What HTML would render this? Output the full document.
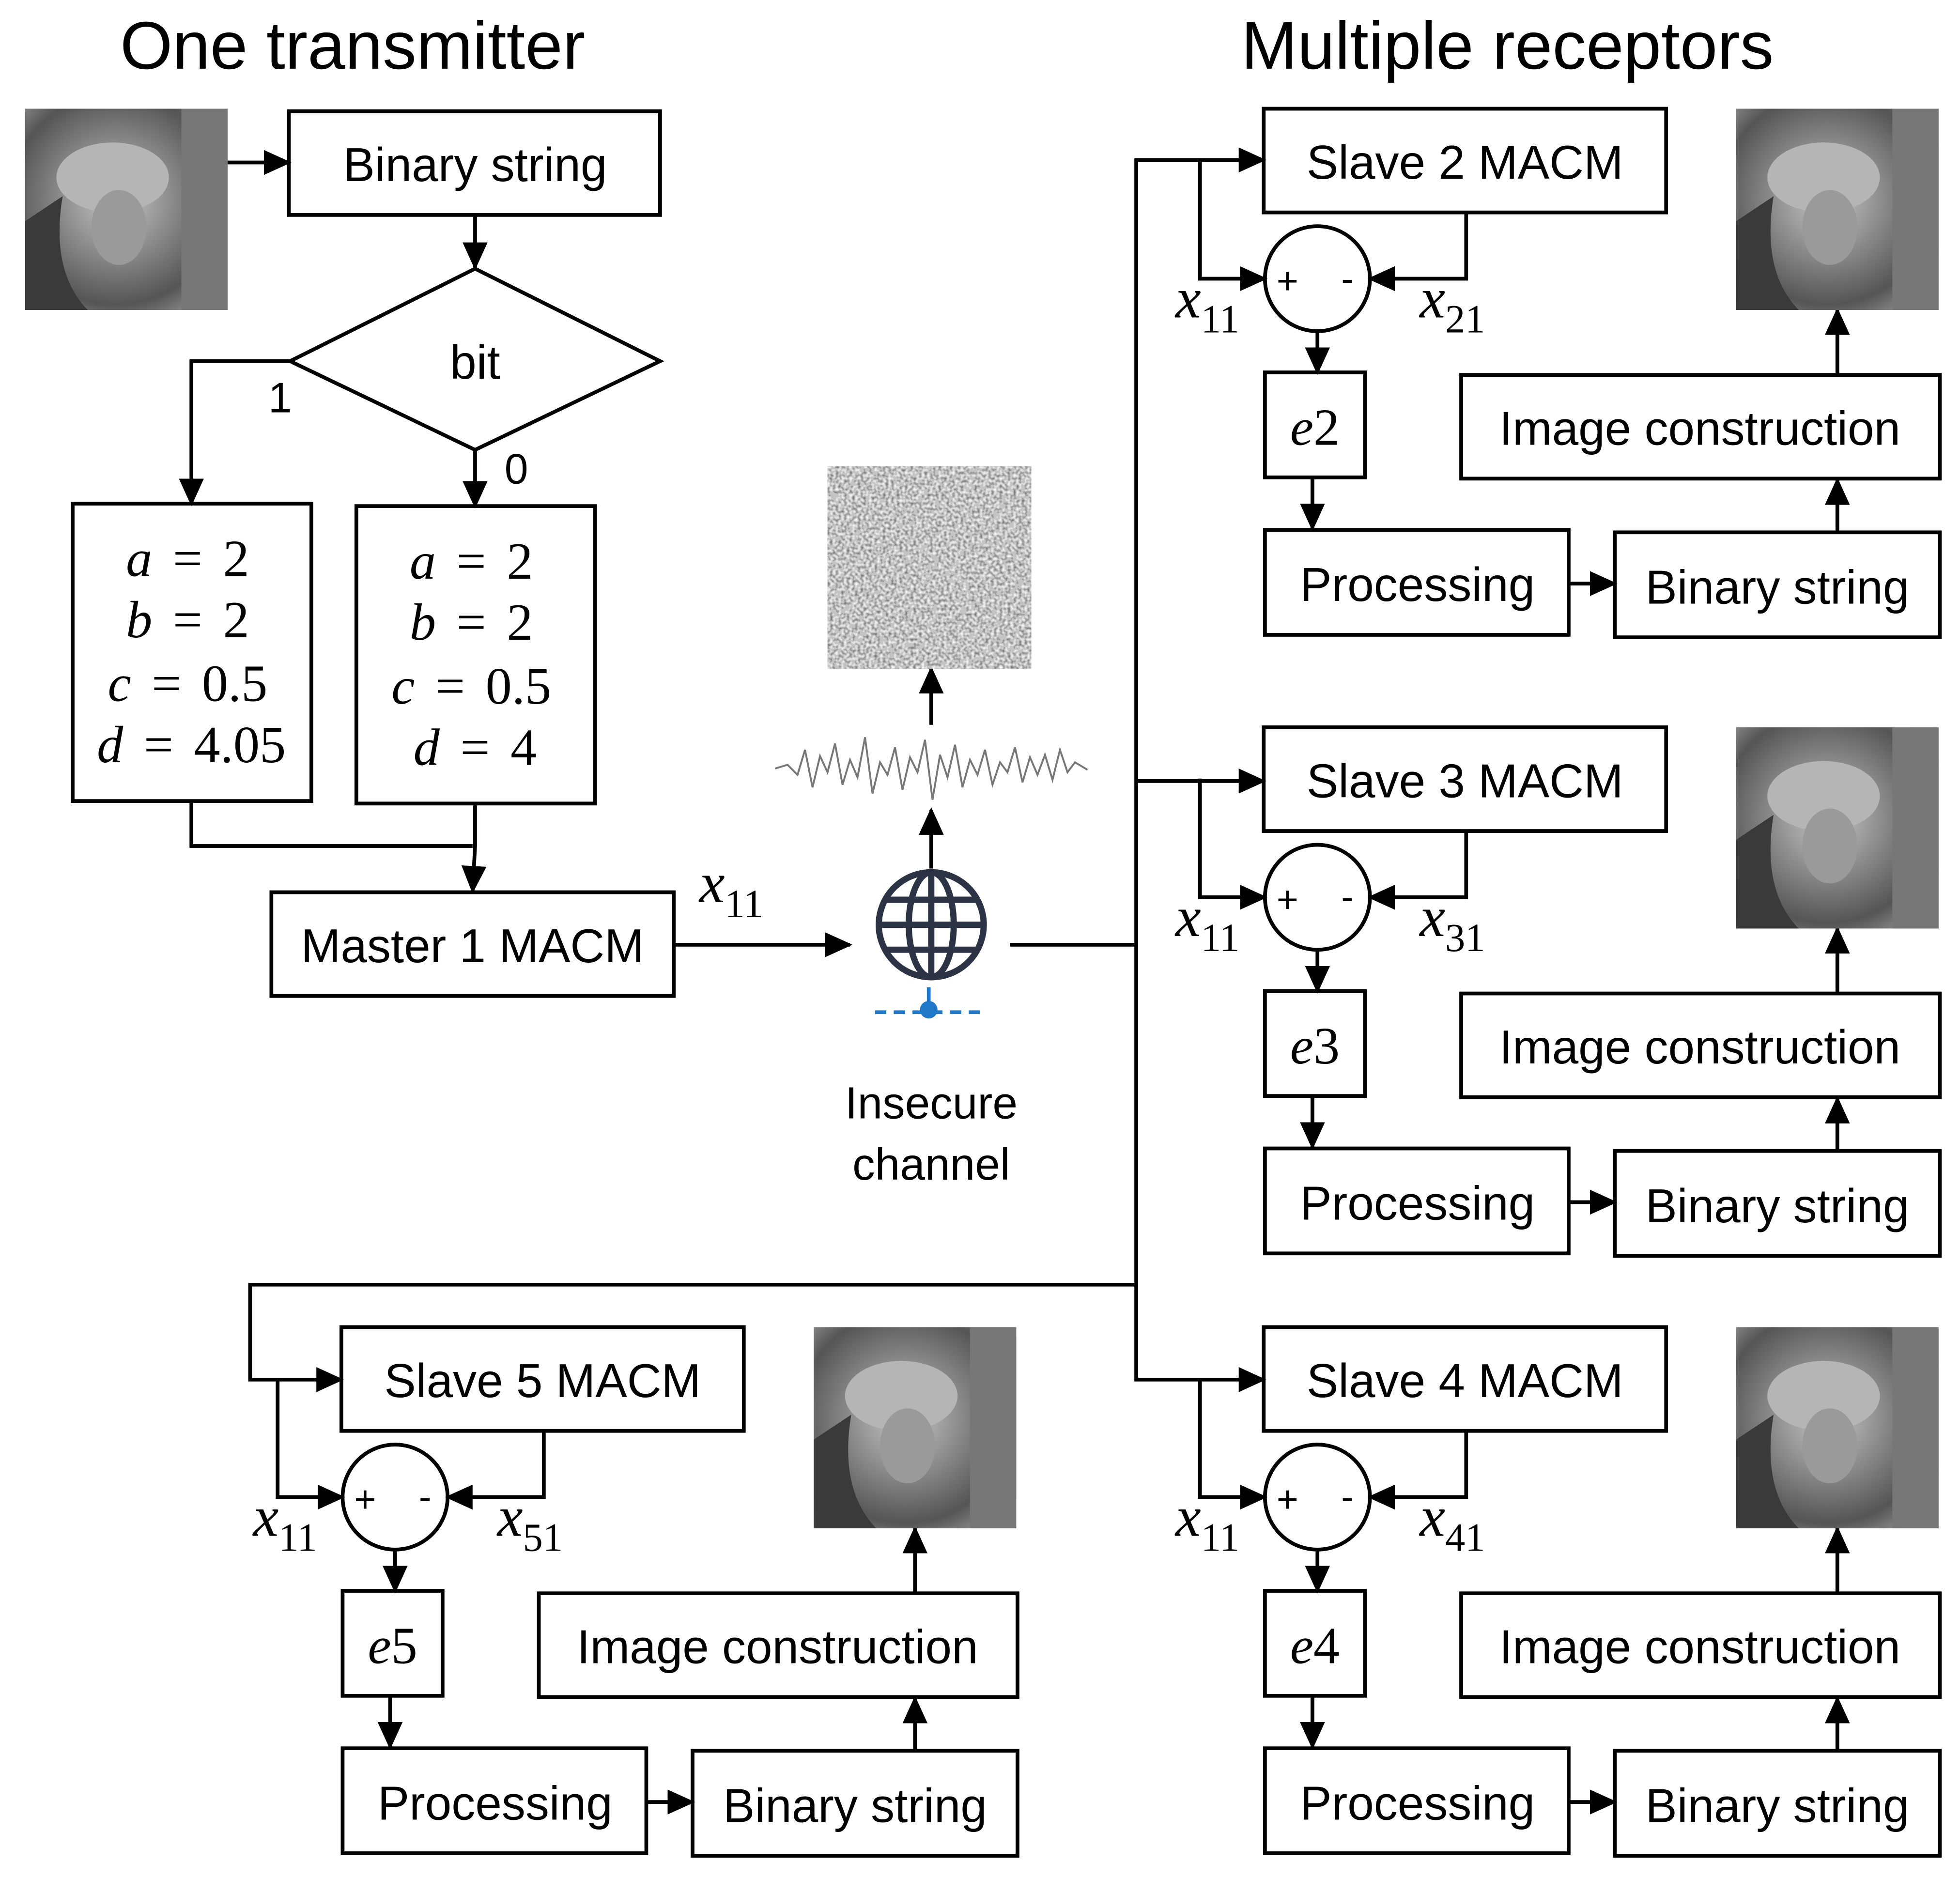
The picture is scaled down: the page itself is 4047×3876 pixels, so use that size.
<!DOCTYPE html>
<html><head><meta charset="utf-8"><style>html,body{margin:0;padding:0;background:#fff}svg{display:block}</style></head>
<body>
<svg width="4047" height="3876" viewBox="0 0 1568 1502" xmlns="http://www.w3.org/2000/svg">
<defs>
<marker id="a" markerUnits="userSpaceOnUse" markerWidth="22" markerHeight="20" refX="20" refY="10" orient="auto"><path d="M0,0 L22,10 L0,20 Z" fill="#000" stroke="none"/></marker>
<radialGradient id="lena" cx="0.45" cy="0.45" r="0.7"><stop offset="0" stop-color="#c8c8c8"/><stop offset="0.4" stop-color="#8a8a8a"/><stop offset="0.75" stop-color="#555"/><stop offset="1" stop-color="#9a9a9a"/></radialGradient>
<filter id="noise" x="0" y="0" width="1" height="1" filterUnits="objectBoundingBox"><feTurbulence type="fractalNoise" baseFrequency="0.45" numOctaves="1" seed="3"/><feColorMatrix type="matrix" values="1 0 0 0 0 1 0 0 0 0 1 0 0 0 0 0 0 0 0 1"/><feComponentTransfer><feFuncR type="discrete" tableValues="0.1 0.2 0.35 0.55 0.75 0.9 1"/><feFuncG type="discrete" tableValues="0.1 0.2 0.35 0.55 0.75 0.9 1"/><feFuncB type="discrete" tableValues="0.1 0.2 0.35 0.55 0.75 0.9 1"/></feComponentTransfer></filter>
<g id="img" stroke="none"><rect width="162" height="161" fill="url(#lena)"/><ellipse cx="70" cy="55" rx="45" ry="28" fill="#b5b5b5"/><ellipse cx="75" cy="95" rx="22" ry="30" fill="#9a9a9a"/><path d="M30,70 Q20,130 50,161 L0,161 L0,90 Z" fill="#3a3a3a"/><rect x="125" y="0" width="37" height="161" fill="#777"/></g>
</defs>
<g font-family="Liberation Sans, sans-serif" fill="none" stroke="#000" stroke-width="3">
<text x="282" y="55" font-size="54" text-anchor="middle" fill="#000" stroke="none">One transmitter</text>
<text x="1206" y="55" font-size="54" text-anchor="middle" fill="#000" stroke="none">Multiple receptors</text>

<use href="#img" x="20" y="87"/>
<line x1="182" y1="130" x2="231" y2="130" marker-end="url(#a)"/>
<rect x="231" y="89" width="297" height="83"/>
<text x="380" y="145" font-size="38" text-anchor="middle" fill="#000" stroke="none">Binary string</text>
<line x1="380" y1="172" x2="380" y2="214" marker-end="url(#a)"/>
<path d="M380,215 L528,289 L380,360 L232,289 Z"/>
<text x="380" y="303" font-size="38" text-anchor="middle" fill="#000" stroke="none">bit</text>
<polyline points="232,289 153,289 153,403" marker-end="url(#a)"/>
<text x="224" y="330" font-size="34" text-anchor="middle" fill="#000" stroke="none">1</text>
<line x1="380" y1="360" x2="380" y2="405" marker-end="url(#a)"/>
<text x="413" y="387" font-size="34" text-anchor="middle" fill="#000" stroke="none">0</text>
<rect x="58" y="403" width="191" height="238"/>
<rect x="285" y="405" width="191" height="238"/>
<g font-family="Liberation Serif, serif" font-size="42" fill="#000" stroke="none" text-anchor="middle" word-spacing="6">
<text x="150" y="461"><tspan font-style="italic">a</tspan> = 2</text>
<text x="150" y="510"><tspan font-style="italic">b</tspan> = 2</text>
<text x="150" y="561"><tspan font-style="italic">c</tspan> = 0.5</text>
<text x="153" y="610"><tspan font-style="italic">d</tspan> = 4.05</text>
<text x="377" y="463"><tspan font-style="italic">a</tspan> = 2</text>
<text x="377" y="512"><tspan font-style="italic">b</tspan> = 2</text>
<text x="377" y="563"><tspan font-style="italic">c</tspan> = 0.5</text>
<text x="380" y="612"><tspan font-style="italic">d</tspan> = 4</text>
<text x="585" y="722" font-size="46"><tspan font-style="italic">x</tspan><tspan font-size="32" dy="12">11</tspan></text>
</g>
<polyline points="153,641 153,677 378,677"/>
<polyline points="380,643 380,677 378,713" marker-end="url(#a)"/>
<rect x="217" y="714" width="322" height="83"/>
<text x="378" y="770" font-size="38" text-anchor="middle" fill="#000" stroke="none">Master 1 MACM</text>
<line x1="539" y1="756" x2="680" y2="756" marker-end="url(#a)"/>

<g stroke="#2b3344" stroke-width="5"><circle cx="745" cy="740" r="42"/><ellipse cx="745" cy="740" rx="18" ry="42"/><line x1="745" y1="698" x2="745" y2="782"/><line x1="703" y1="740" x2="787" y2="740"/><line x1="708" y1="720" x2="782" y2="720"/><line x1="708" y1="760" x2="782" y2="760"/></g>
<line x1="700" y1="810" x2="790" y2="810" stroke="#1f78c8" stroke-dasharray="9,6"/>
<line x1="743" y1="790" x2="743" y2="805" stroke="#1f78c8"/>
<circle cx="743" cy="808" r="7" fill="#1f78c8" stroke="none"/>
<text x="745" y="895" font-size="36" text-anchor="middle" fill="#000" stroke="none">Insecure</text>
<text x="745" y="944" font-size="36" text-anchor="middle" fill="#000" stroke="none">channel</text>
<line x1="745" y1="695" x2="745" y2="648" marker-end="url(#a)"/>
<polyline stroke="#777" stroke-width="1.5" points="620,615 630,612 638,620 644,600 650,630 656,605 662,618 668,595 674,628 680,608 686,622 692,590 698,635 704,610 710,620 716,598 722,632 728,606 734,618 740,592 746,640 752,604 758,622 764,596 770,630 776,608 782,620 788,600 794,628 800,610 806,618 812,598 818,626 824,606 830,620 836,604 842,624 848,600 854,618 860,610 870,616"/>
<line x1="745" y1="580" x2="745" y2="535" marker-end="url(#a)"/>
<rect x="662" y="373" width="163" height="162" fill="#888" stroke="none" filter="url(#noise)"/>

<polyline points="808,756 909,756"/>
<polyline points="1011,128 909,128 909,1104 1011,1104" marker-end="url(#a)"/>
<line x1="909" y1="128" x2="1011" y2="128" marker-end="url(#a)"/>
<line x1="909" y1="625" x2="1011" y2="625" marker-end="url(#a)"/>
<polyline points="909,1028 200,1028 200,1104 273,1104" marker-end="url(#a)"/>

<g id="mod">
<rect x="1011" y="87" width="322" height="83"/>
<circle cx="1054" cy="223" r="42"/>
<polyline points="960,128 960,223 1012,223" marker-end="url(#a)"/>
<polyline points="1173,170 1173,223 1096,223" marker-end="url(#a)"/>
<line x1="1054" y1="265" x2="1054" y2="298" marker-end="url(#a)"/>
<rect x="1012" y="298" width="80" height="84"/>
<line x1="1050" y1="382" x2="1050" y2="423" marker-end="url(#a)"/>
<rect x="1012" y="424" width="243" height="84"/>
<line x1="1255" y1="467" x2="1292" y2="467" marker-end="url(#a)"/>
<rect x="1292" y="426" width="260" height="84"/>
<line x1="1470" y1="426" x2="1470" y2="384" marker-end="url(#a)"/>
<rect x="1169" y="300" width="383" height="83"/>
<line x1="1470" y1="300" x2="1470" y2="248" marker-end="url(#a)"/>
<use href="#img" x="1389" y="87"/>
<g fill="#000" stroke="none" font-size="38" text-anchor="middle">
<text x="1030" y="235" font-size="30">+</text><text x="1078" y="233" font-size="30">-</text>
<text x="1134" y="481">Processing</text>
<text x="1422" y="483">Binary string</text>
<text x="1360" y="356">Image construction</text>
</g>
</g>
<use href="#mod" y="495"/>
<use href="#mod" y="975"/>
<use href="#mod" x="-738" y="975"/>

<g fill="#000" stroke="none" font-size="38" text-anchor="middle">
<text x="1172" y="143">Slave 2 MACM</text>
<text x="1172" y="638">Slave 3 MACM</text>
<text x="1172" y="1118">Slave 4 MACM</text>
<text x="434" y="1118">Slave 5 MACM</text>
</g>
<g font-family="Liberation Serif, serif" fill="#000" stroke="none" font-size="42" font-style="italic" text-anchor="middle">
<text x="1052" y="356">e<tspan font-style="normal">2</tspan></text>
<text x="1052" y="851">e<tspan font-style="normal">3</tspan></text>
<text x="1052" y="1331">e<tspan font-style="normal">4</tspan></text>
<text x="314" y="1331">e<tspan font-style="normal">5</tspan></text>
</g>
<g font-family="Liberation Serif, serif" fill="#000" stroke="none" font-size="46" text-anchor="middle">
<text x="966" y="254"><tspan font-style="italic">x</tspan><tspan font-size="32" dy="12">11</tspan></text>
<text x="1162" y="254"><tspan font-style="italic">x</tspan><tspan font-size="32" dy="12">21</tspan></text>
<text x="966" y="749"><tspan font-style="italic">x</tspan><tspan font-size="32" dy="12">11</tspan></text>
<text x="1162" y="749"><tspan font-style="italic">x</tspan><tspan font-size="32" dy="12">31</tspan></text>
<text x="966" y="1229"><tspan font-style="italic">x</tspan><tspan font-size="32" dy="12">11</tspan></text>
<text x="1162" y="1229"><tspan font-style="italic">x</tspan><tspan font-size="32" dy="12">41</tspan></text>
<text x="228" y="1229"><tspan font-style="italic">x</tspan><tspan font-size="32" dy="12">11</tspan></text>
<text x="424" y="1229"><tspan font-style="italic">x</tspan><tspan font-size="32" dy="12">51</tspan></text>
</g>
</g>
</svg>
</body></html>
